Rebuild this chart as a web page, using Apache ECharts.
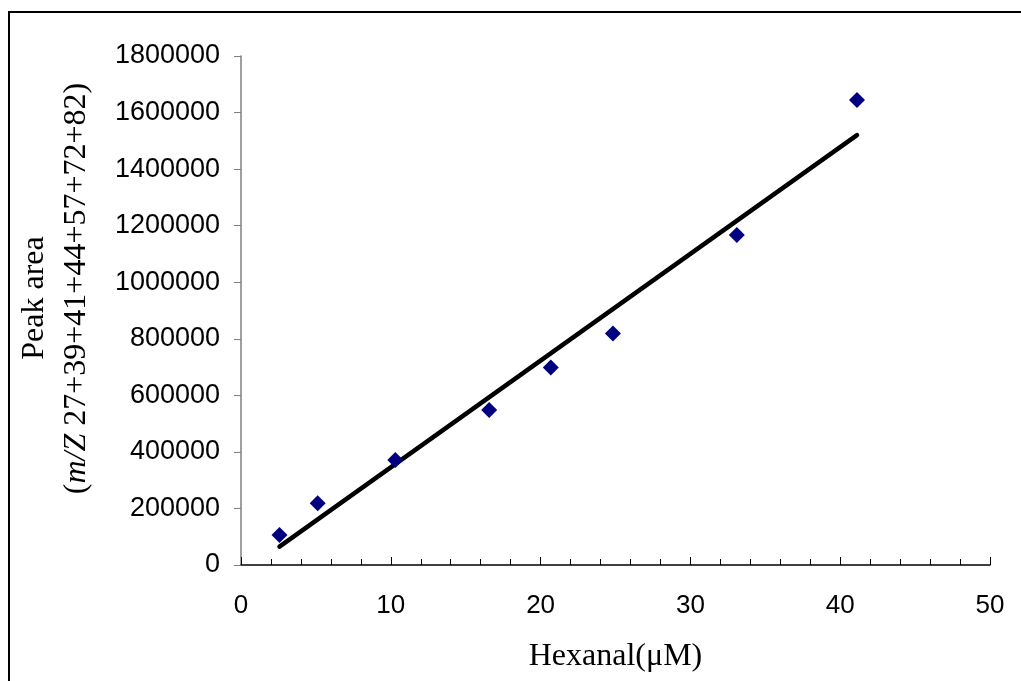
<!DOCTYPE html>
<html>
<head>
<meta charset="utf-8">
<script src="https://cdn.jsdelivr.net/npm/echarts@6/dist/echarts.min.js"></script>
<style>
  html, body { margin: 0; padding: 0; background: #fff; }
  #chart { width: 1021px; height: 681px; }
</style>
</head>
<body>
<div id="chart"></div>
<script>
// Hexanal calibration: measured peak areas and the fitted straight line
const hexanal = [2.57, 5.12, 10.3, 16.57, 20.68, 24.83, 33.1, 41.12];
const peakArea = [106000, 218000, 371000, 548000, 698000, 819000, 1167000, 1644000];
const fitX = [2.57, 41.12];
const fitY = [65000, 1520000];

const sansFont = "'Liberation Sans', Arial, sans-serif";
const serifFont = "'Liberation Serif', 'Times New Roman', serif";

const chart = echarts.init(document.getElementById('chart'), null, { renderer: 'canvas' });

chart.setOption({
  animation: false,
  backgroundColor: '#ffffff',
  grid: { left: 241, right: 31, top: 56, bottom: 116, containLabel: false },
  graphic: [{
    type: 'rect',
    shape: { x: 9, y: 12, width: 1100, height: 1000 },
    style: { fill: 'none', stroke: '#000', lineWidth: 2 },
    silent: true,
    z: 100
  }],
  xAxis: {
    type: 'value',
    min: 0, max: 50, interval: 10,
    splitLine: { show: false },
    axisLine: { show: true, onZero: false, lineStyle: { color: '#000', width: 1.5 } },
    axisTick: { show: true, inside: true, length: 8, lineStyle: { color: '#000', width: 1 } },
    minorTick: { show: true, splitNumber: 5, length: 6, lineStyle: { color: '#000', width: 1 } },
    axisLabel: { fontFamily: sansFont, fontSize: 26, color: '#000', margin: 28, lineHeight: 26 },
    name: 'Hexanal(μM)',
    nameLocation: 'middle',
    nameGap: 76,
    nameTextStyle: { fontFamily: serifFont, fontSize: 32, color: '#000', lineHeight: 32 }
  },
  yAxis: {
    type: 'value',
    min: 0, max: 1800000, interval: 200000,
    splitLine: { show: false },
    axisLine: { show: true, lineStyle: { color: '#808080', width: 1.5 } },
    axisTick: { show: true, inside: false, length: 7, lineStyle: { color: '#808080', width: 1 } },
    axisLabel: {
      fontFamily: sansFont, fontSize: 27, color: '#000', margin: 21,
      formatter: (v) => String(v)
    },
    name: '{a|Peak area}\n{b|(}{i|m/Z}{b| 27+39+41+44+57+72+82)}',
    nameLocation: 'middle',
    nameRotate: 90,
    nameGap: 143,
    nameTextStyle: {
      fontFamily: serifFont, fontSize: 32, color: '#000', lineHeight: 42,
      padding: [0, 0, 0, 44],
      rich: {
        a: { fontFamily: serifFont, fontSize: 32, color: '#000', lineHeight: 42, padding: [0, 19, 0, 0] },
        b: { fontFamily: serifFont, fontSize: 32, color: '#000', lineHeight: 42 },
        i: { fontFamily: serifFont, fontSize: 32, color: '#000', lineHeight: 42, fontStyle: 'italic' }
      }
    }
  },
  series: [
    {
      name: 'Fit',
      type: 'line',
      data: fitX.map((x, i) => [x, fitY[i]]),
      showSymbol: false,
      symbol: 'none',
      lineStyle: { color: '#000', width: 4.5, cap: 'round' },
      z: 2
    },
    {
      name: 'Peak area',
      type: 'scatter',
      data: hexanal.map((x, i) => [x, peakArea[i]]),
      symbol: 'diamond',
      symbolSize: 16,
      itemStyle: { color: '#000080', opacity: 1 },
      z: 3
    }
  ]
});
</script>
</body>
</html>
